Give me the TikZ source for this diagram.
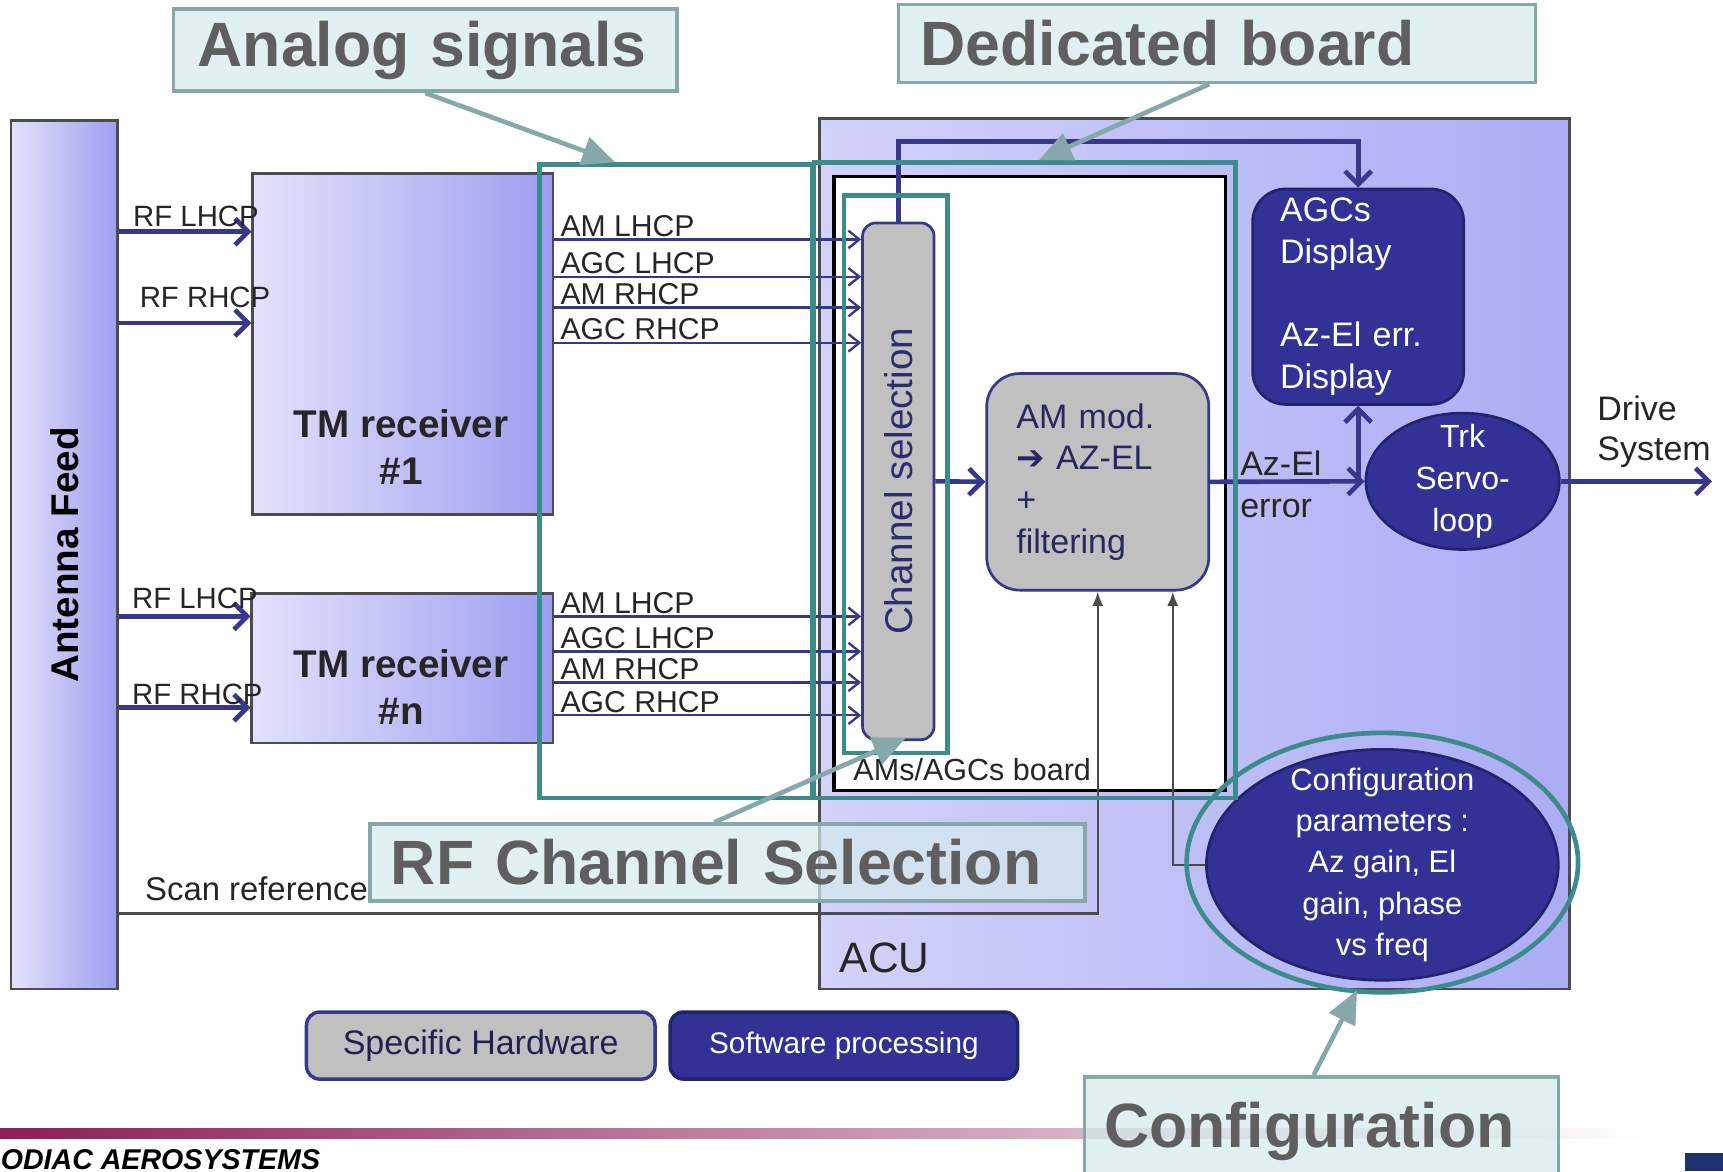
\documentclass[tikz,border=0pt]{standalone}
\usepackage{fontspec}
\setmainfont{Liberation Sans}
\newfontfamily\symfont{DejaVu Sans}
\usetikzlibrary{arrows.meta,shapes.geometric}
\definecolor{wire}{RGB}{55,55,140}
\definecolor{acublue}{RGB}{50,50,150}
\definecolor{acudark}{RGB}{35,35,110}
\definecolor{hwgray}{RGB}{192,192,192}
\definecolor{lavlight}{RGB}{226,226,252}
\definecolor{lavdark}{RGB}{158,158,240}
\definecolor{aculeft}{RGB}{210,210,250}
\definecolor{acuright}{RGB}{172,172,245}
\definecolor{tealmark}{RGB}{60,140,140}
\definecolor{notefill}{RGB}{212,235,237}
\definecolor{noteline}{RGB}{135,168,170}
\definecolor{notetext}{RGB}{95,95,95}
\definecolor{barred}{RGB}{140,30,85}
\definecolor{footblue}{RGB}{30,50,110}
\newcommand{\fsz}[2]{\fontsize{#1}{#2}\selectfont}
\tikzset{
  feed-box/.style={draw=black!70, line width=0.6pt, left color=lavlight, right color=lavdark, inner sep=0pt},
  board-box/.style={draw=black, line width=0.9pt, fill=white, inner sep=0pt},
  hw-box/.style={draw=wire, line width=0.7pt, fill=hwgray, inner sep=0pt},
  sw-box/.style={draw=acudark, line width=0.7pt, fill=acublue, text=white, inner sep=0pt},
  teal-box/.style={draw=tealmark, line width=1.2pt, inner sep=0pt},
  note-box/.style={draw=noteline, line width=0.9pt, fill=notefill, fill opacity=0.7, text opacity=1,
    text=notetext, font=\bfseries\fsz{16.2}{18}, align=left, inner ysep=0pt},
  note-arrow/.style={draw=noteline, line width=1.2pt, -{Triangle[length=0.3cm,width=0.26cm]}},
  rf/.style={draw=wire, line width=1.2pt, -{Straight Barb[length=0.12cm,width=0.24cm]}},
  sig/.style={draw=wire, line width=0.6pt, -{Straight Barb[length=0.1cm,width=0.16cm]}},
  ctl/.style={draw=black!70, line width=0.6pt, -{Latex[length=0.13cm,width=0.1cm]}},
  lbl/.style={inner sep=0pt, text=black!85}
}

\begin{document}
\begin{tikzpicture}[x=0.01cm, y=-0.01cm]
  \useasboundingbox (0,0) rectangle (1568,1066);
  % footer
  \shade[left color=barred, right color=white] (0,1027) rectangle (1500,1036);
  \node[anchor=base west, inner sep=0pt, font=\bfseries\itshape\fsz{7.4}{9}] (maker) at (0,1064) {ODIAC AEROSYSTEMS};
  \fill[footblue] (1533,1049) rectangle (1568,1066);

  % ACU and the board
  \node[feed-box, left color=aculeft, right color=acuright, minimum width=6.82cm, minimum height=7.92cm] (acu) at (1087,504) {};
  \node[lbl, font=\fsz{11}{13}] (acutxt) at (805,872) {ACU};
  \node[board-box, minimum width=3.56cm, minimum height=5.58cm] (board) at (937,440) {};
  \node[lbl, anchor=base west, font=\fsz{7.9}{9}] (boardtxt) at (776,710) {AMs/AGCs board};

  % feed and receivers
  \node[feed-box, minimum width=0.97cm, minimum height=7.9cm, font=\bfseries\fsz{10}{12}] (feed) at (58.5,505) {\rotatebox{90}{Antenna Feed}};
  \node[feed-box, minimum width=2.73cm, minimum height=3.1cm] (rx1) at (366.5,313) {};
  \node[lbl, align=center, font=\bfseries\fsz{10}{12.2}] (rx1txt) at (365,407) {TM receiver\\\#1};
  \node[feed-box, minimum width=2.74cm, minimum height=1.36cm] (rxn) at (366,608) {};
  \node[lbl, align=center, font=\bfseries\fsz{10}{12.2}] (rxntxt) at (365,625) {TM receiver\\\#n};

  % processing blocks
  \node[hw-box, rounded corners=0.12cm, minimum width=0.65cm, minimum height=4.7cm, text=wire!80!black, font=\fsz{10}{12}] (chsel) at (817.5,438) {\rotatebox{90}{Channel selection}};
  \node[hw-box, rounded corners=0.3cm, minimum width=2.02cm, minimum height=1.97cm, text width=1.48cm, align=left, text=wire!70!black, font=\fsz{8.8}{10.8}] (ammod) at (999,438.5) {AM mod.\\{\symfont ➔} AZ-EL\\+\\filtering};
  \node[sw-box, rounded corners=0.3cm, minimum width=1.92cm, minimum height=1.96cm, text width=1.42cm, align=left, font=\fsz{8.8}{10.8}] (disp) at (1236,270) {AGCs\\Display\\[0.38cm]Az-El err.\\Display};
  \node[sw-box, ellipse, minimum width=1.76cm, minimum height=1.24cm] (servo) at (1331,438) {};
  \node[lbl, text=white, align=center, font=\fsz{8.3}{10.8}] (servotxt) at (servo.center) {Trk\\Servo-\\loop};
  \node[sw-box, ellipse, minimum width=3.2cm, minimum height=2.1cm] (conf) at (1258,787) {};
  \node[lbl, text=white, align=center, font=\fsz{8}{10.67}] (conftxt) at (conf.center) {Configuration\\parameters :\\Az gain, El\\gain, phase\\vs freq};
  \coordinate (drive) at (1558,438);

  % RF inputs
  \foreach \rx/\dy/\txt/\up/\dx in {rx1/.54/RF LHCP/.05/.11, rx1/1.37/RF RHCP/.14/.17, rxn/.22/RF LHCP/.07/.10, rxn/1.05/RF RHCP/.03/.10} {
    \coordinate (rfend) at ([yshift=-\dy cm]\rx.north west);
    \draw[rf] (feed.east |- rfend) -- node[pos=0, lbl, anchor=base west, xshift=\dx cm, yshift=\up cm, font=\fsz{7.6}{9}] {\txt} (rfend);
  }
  % analog outputs
  \foreach \rx/\dy/\txt in {rx1/.61/AM LHCP, rx1/.95/AGC LHCP, rx1/1.23/AM RHCP, rx1/1.55/AGC RHCP, rxn/.22/AM LHCP, rxn/.54/AGC LHCP, rxn/.82/AM RHCP, rxn/1.12/AGC RHCP} {
    \coordinate (sigstart) at ([yshift=-\dy cm]\rx.north east);
    \draw[sig] (sigstart) -- node[pos=0, lbl, anchor=base west, xshift=.05cm, yshift=.03cm, font=\fsz{7.8}{9}] {\txt} (sigstart -| chsel.west);
  }

  % processing chain
  \draw[rf] (chsel.east) -- (ammod.west);
  \draw[rf] (ammod.east) -- (servo.west);
  \coordinate (split) at (disp.south |- servo.west);
  \draw[rf] (split) -- (disp.south);
  \draw[rf] (chsel.north) -- ++(0,0.73cm) -| (disp.north);
  \draw[rf] (servo.east) -- (drive);
  \node[lbl, anchor=west, align=left, font=\fsz{8.8}{10.8}] (azeltxt) at (1128,441) {Az-El\\error};
  \node[lbl, anchor=west, align=left, font=\fsz{8.8}{10.5}] (drivetxt) at (1453,393) {Drive\\System};

  % control inputs
  \draw[ctl] ([yshift=0.7cm]feed.south east) -| node[pos=0, lbl, anchor=base west, xshift=0.23cm, yshift=0.12cm, font=\fsz{8.5}{10}] {Scan reference} (ammod.south);
  \draw[ctl] (conf.west) -| ([xshift=-0.34cm]ammod.south east);

  % legend
  \node[hw-box, rounded corners=0.12cm, line width=0.9pt, minimum width=3.17cm, minimum height=0.61cm, text=wire!60!black, font=\fsz{8.8}{10}] (hwkey) at (437.5,951.5) {Specific Hardware};
  \node[sw-box, rounded corners=0.12cm, line width=0.9pt, minimum width=3.16cm, minimum height=0.61cm, font=\fsz{7.7}{9}] (swkey) at (768,951.5) {Software processing};

  % highlights
  \node[teal-box, minimum width=2.48cm, minimum height=5.76cm] (markA) at (615,438) {};
  \node[teal-box, minimum width=3.83cm, minimum height=5.78cm] (markB) at (932.5,437) {};
  \node[teal-box, minimum width=0.94cm, minimum height=5.07cm] (markC) at (815,431.5) {};
  \node[teal-box, ellipse, minimum width=3.56cm, minimum height=2.36cm] (ring) at (1258,785) {};

  % call-outs
  \node[note-box, inner xsep=0.22cm, text width=4.14cm, minimum height=0.75cm] (noteA) at (387,45.5) {Analog signals};
  \node[note-box, inner xsep=0.2cm, text width=5.39cm, minimum height=0.71cm] (noteB) at (1107.5,39.5) {Dedicated board};
  \node[note-box, inner xsep=0.19cm, text width=6.12cm, minimum height=0.7cm] (noteC) at (662,785) {RF Channel Selection};
  \node[note-box, inner xsep=0.18cm, text width=3.95cm, minimum height=1.0cm] (noteD) at (1202.5,1030) {Configuration};
  \draw[note-arrow] (noteA.south) -- ([xshift=-0.55cm]markA.north);
  \draw[note-arrow] ([xshift=-0.07cm]noteB.south) -- ([xshift=0.13cm]markB.north);
  \draw[note-arrow] ([xshift=-0.12cm]noteC.north) -- ([xshift=0.07cm,yshift=0.03cm]chsel.south);
  \draw[note-arrow] ([xshift=-0.07cm]noteD.north) -- ([xshift=-0.23cm,yshift=0.04cm]ring.south);
\end{tikzpicture}
\end{document}
